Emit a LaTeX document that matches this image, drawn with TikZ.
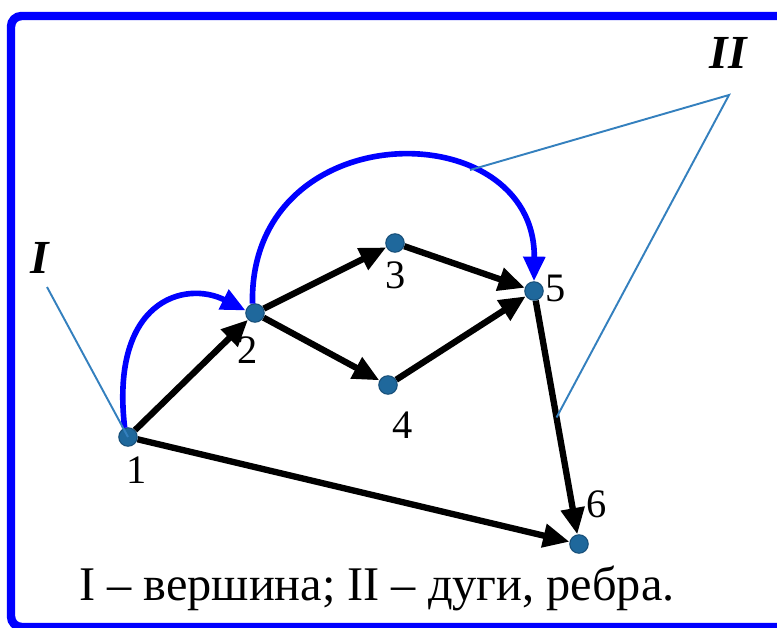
\documentclass[tikz,border=0pt]{standalone}
\usepackage{fontspec}
\setmainfont{Liberation Serif}
\usetikzlibrary{arrows.meta, positioning, calc, backgrounds}
\definecolor{frameblue}{RGB}{0,0,255}
\definecolor{dotblue}{RGB}{31,104,156}
\definecolor{dotdark}{RGB}{22,78,120}
\definecolor{calloutblue}{RGB}{52,128,190}
\tikzstyle{vertex}   = [circle, fill=dotblue, draw=dotdark, line width=0.6pt,
                        minimum size=0.37cm, inner sep=0pt]
\tikzstyle{num}      = [font=\fontsize{23}{27}\selectfont, inner sep=0pt]
\tikzstyle{tag}      = [font=\fontsize{27}{31}\selectfont\bfseries\itshape, inner sep=0pt]
\tikzstyle{edge}     = [line width=3.6pt, -{Triangle[length=15pt,width=13pt]}]
\tikzstyle{bluearc}  = [line width=3.2pt, draw=frameblue, -{Triangle[length=14pt,width=12pt]}]
\tikzstyle{callout}  = [line width=1.1pt, draw=calloutblue]
\tikzstyle{framed}   = [line width=4.8pt, draw=frameblue, rounded corners=6pt]

\begin{document}
\begin{tikzpicture}[x=0.02cm, y=-0.02cm]

  \useasboundingbox (0,0) rectangle (777,628);
  \clip (0,0) rectangle (777,628);

  % --- Frame ---
  \draw[framed] (11,16) rectangle (800,627);

  % --- Vertices ---
  \node (v1) [vertex] at (128,437) {};
  \node (v2) [vertex] at (255,313) {};
  \node (v3) [vertex] at (395,243) {};
  \node (v4) [vertex] at (388,385) {};
  \node (v5) [vertex] at (534,291) {};
  \node (v6) [vertex] at (579,544) {};

  % --- Vertex numbers ---
  \node (n1) [num] at (137,470) {1};
  \node (n2) [num] at (248,350) {2};
  \node (n3) [num] at (396,275) {3};
  \node (n4) [num] at (403,425) {4};
  \node (n5) [num] at (556,288) {5};
  \node (n6) [num] at (597,504) {6};

  % Arrows
  \begin{scope}[on background layer]
    \draw[edge] (v1) -- (v2);
    \draw[edge] (v2) -- (v3);
    \draw[edge] (v2) -- (v4);
    \draw[edge] (v3) -- (v5);
    \draw[edge] (v4) -- (v5);
    \draw[edge] (v5) -- (v6);
    \draw[edge] (v1) -- (v6);
  \end{scope}

  % Blue arcs
  \draw[bluearc] (v1.110) .. controls (110,300) and (185,280) .. (v2.165);
  \draw[bluearc] (v2.105) .. controls (249,112) and (536,112) .. (v5.north);

  % --- Callouts ---
  \node (tagI)  [tag] at (40,258) {I};
  \node (tagII) [tag] at (728,53) {II};
  \coordinate (iStart) at (47,287);
  \coordinate (iiApex) at (729,95);
  \coordinate (onArc)  at (470,170);
  \coordinate (onEdge) at ($(v5)!0.5!(v6)$);
  \draw[callout] (iStart) -- (v1.center);
  \draw[callout] (onArc) -- (iiApex) -- (onEdge);

  % --- Caption ---
  \node (caption) [font=\fontsize{27.5}{32}\selectfont, anchor=base, inner sep=0pt]
                  at (377,600) {I – вершина; II – дуги, ребра.};

\end{tikzpicture}
\end{document}
